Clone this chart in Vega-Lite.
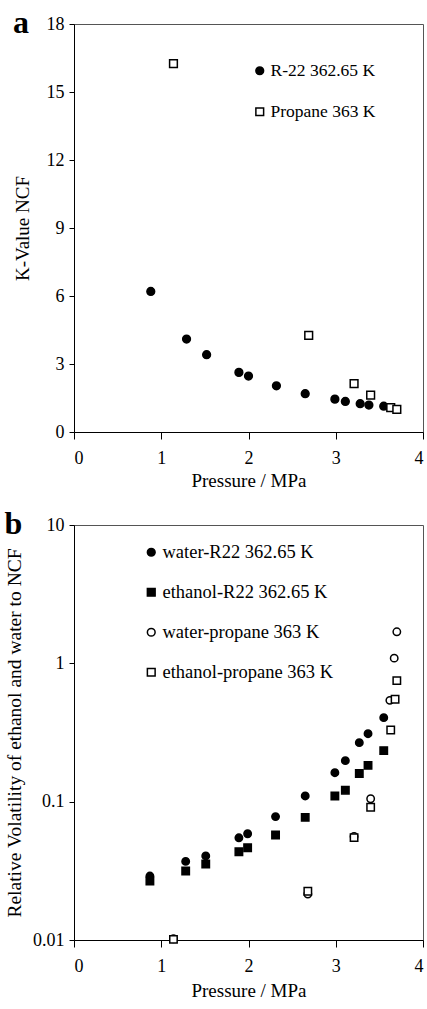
{
  "$schema": "https://vega.github.io/schema/vega-lite/v6.json",
  "padding": {"top": 6, "left": 4, "right": 4, "bottom": 2},
  "spacing": 16,
  "resolve": {"scale": {"shape": "independent", "fill": "independent", "stroke": "independent"}, "legend": {"shape": "independent", "fill": "independent", "stroke": "independent"}},
  "config": {
    "font": "Liberation Serif",
    "view": {"stroke": "#555", "strokeWidth": 1},
    "axis": {
      "grid": false, "domainColor": "black", "tickColor": "black", "labelColor": "black", "titleColor": "black",
      "labelFont": "Liberation Serif", "titleFont": "Liberation Serif", "labelFontSize": 18, "titleFontSize": 19,
      "titleFontWeight": "normal", "tickSize": 5, "labelPadding": 5
    },
    "legend": {
      "labelFont": "Liberation Serif", "labelColor": "black", "padding": 0,
      "symbolSize": 60, "labelOffset": 2, "labelLimit": 300, "symbolStrokeWidth": 1.5
    },
    "title": {"font": "Liberation Serif", "fontSize": 32, "fontWeight": "bold", "anchor": "start", "frame": "bounds", "color": "black"}
  },
  "vconcat": [
    {
      "title": {"text": "a", "offset": -25},
      "width": 349,
      "height": 408,
      "data": {"values": [
        {"P": 0.88, "K": 6.2, "series": "R-22 362.65 K"},
        {"P": 1.29, "K": 4.1, "series": "R-22 362.65 K"},
        {"P": 1.52, "K": 3.41, "series": "R-22 362.65 K"},
        {"P": 1.89, "K": 2.63, "series": "R-22 362.65 K"},
        {"P": 2.0, "K": 2.47, "series": "R-22 362.65 K"},
        {"P": 2.32, "K": 2.04, "series": "R-22 362.65 K"},
        {"P": 2.65, "K": 1.69, "series": "R-22 362.65 K"},
        {"P": 2.99, "K": 1.45, "series": "R-22 362.65 K"},
        {"P": 3.11, "K": 1.35, "series": "R-22 362.65 K"},
        {"P": 3.28, "K": 1.25, "series": "R-22 362.65 K"},
        {"P": 3.38, "K": 1.19, "series": "R-22 362.65 K"},
        {"P": 3.55, "K": 1.14, "series": "R-22 362.65 K"},
        {"P": 1.14, "K": 16.25, "series": "Propane 363 K"},
        {"P": 2.69, "K": 4.26, "series": "Propane 363 K"},
        {"P": 3.21, "K": 2.13, "series": "Propane 363 K"},
        {"P": 3.40, "K": 1.63, "series": "Propane 363 K"},
        {"P": 3.63, "K": 1.07, "series": "Propane 363 K"},
        {"P": 3.70, "K": 1.0, "series": "Propane 363 K"}
      ]},
      "mark": {"type": "point", "filled": true, "strokeWidth": 1.5, "size": 60, "opacity": 1},
      "encoding": {
        "x": {"field": "P", "type": "quantitative", "scale": {"domain": [0, 4]},
              "axis": {"values": [0, 1, 2, 3, 4], "title": "Pressure / MPa", "tickSize": 7, "labelPadding": 10, "titlePadding": 4}},
        "y": {"field": "K", "type": "quantitative", "scale": {"domain": [0, 18]},
              "axis": {"values": [0, 3, 6, 9, 12, 15, 18], "title": "K-Value NCF", "titlePadding": 14}},
        "shape": {"field": "series", "type": "nominal",
                  "scale": {"domain": ["R-22 362.65 K", "Propane 363 K"], "range": ["circle", "square"]},
                  "legend": {"title": null, "orient": "none", "legendX": 177, "legendY": 38, "labelFontSize": 17.5, "rowPadding": 22}},
        "fill": {"field": "series", "type": "nominal",
                 "scale": {"domain": ["R-22 362.65 K", "Propane 363 K"], "range": ["black", "white"]},
                 "legend": {"title": null, "orient": "none", "legendX": 177, "legendY": 38, "labelFontSize": 17.5, "rowPadding": 22}},
        "stroke": {"field": "series", "type": "nominal",
                 "scale": {"domain": ["R-22 362.65 K", "Propane 363 K"], "range": ["black", "black"]},
                 "legend": {"title": null, "orient": "none", "legendX": 177, "legendY": 38, "labelFontSize": 17.5, "rowPadding": 22}}
      }
    },
    {
      "title": {"text": "b", "offset": -25},
      "width": 349,
      "height": 415,
      "data": {"values": [
        {"P": 0.87, "R": 0.029, "series": "water-R22 362.65 K"},
        {"P": 1.28, "R": 0.037, "series": "water-R22 362.65 K"},
        {"P": 1.51, "R": 0.0405, "series": "water-R22 362.65 K"},
        {"P": 1.89, "R": 0.0548, "series": "water-R22 362.65 K"},
        {"P": 1.99, "R": 0.0586, "series": "water-R22 362.65 K"},
        {"P": 2.31, "R": 0.078, "series": "water-R22 362.65 K"},
        {"P": 2.65, "R": 0.110, "series": "water-R22 362.65 K"},
        {"P": 2.99, "R": 0.162, "series": "water-R22 362.65 K"},
        {"P": 3.11, "R": 0.198, "series": "water-R22 362.65 K"},
        {"P": 3.27, "R": 0.267, "series": "water-R22 362.65 K"},
        {"P": 3.37, "R": 0.31, "series": "water-R22 362.65 K"},
        {"P": 3.55, "R": 0.405, "series": "water-R22 362.65 K"},
        {"P": 0.87, "R": 0.0267, "series": "ethanol-R22 362.65 K"},
        {"P": 1.28, "R": 0.0315, "series": "ethanol-R22 362.65 K"},
        {"P": 1.51, "R": 0.0354, "series": "ethanol-R22 362.65 K"},
        {"P": 1.89, "R": 0.0435, "series": "ethanol-R22 362.65 K"},
        {"P": 1.99, "R": 0.0465, "series": "ethanol-R22 362.65 K"},
        {"P": 2.31, "R": 0.0574, "series": "ethanol-R22 362.65 K"},
        {"P": 2.65, "R": 0.077, "series": "ethanol-R22 362.65 K"},
        {"P": 2.99, "R": 0.110, "series": "ethanol-R22 362.65 K"},
        {"P": 3.11, "R": 0.121, "series": "ethanol-R22 362.65 K"},
        {"P": 3.27, "R": 0.160, "series": "ethanol-R22 362.65 K"},
        {"P": 3.37, "R": 0.183, "series": "ethanol-R22 362.65 K"},
        {"P": 3.55, "R": 0.234, "series": "ethanol-R22 362.65 K"},
        {"P": 1.14, "R": 0.0102, "series": "water-propane 363 K"},
        {"P": 2.68, "R": 0.0215, "series": "water-propane 363 K"},
        {"P": 3.21, "R": 0.056, "series": "water-propane 363 K"},
        {"P": 3.40, "R": 0.105, "series": "water-propane 363 K"},
        {"P": 3.62, "R": 0.54, "series": "water-propane 363 K"},
        {"P": 3.67, "R": 1.09, "series": "water-propane 363 K"},
        {"P": 3.70, "R": 1.69, "series": "water-propane 363 K"},
        {"P": 1.14, "R": 0.0101, "series": "ethanol-propane 363 K"},
        {"P": 2.68, "R": 0.0225, "series": "ethanol-propane 363 K"},
        {"P": 3.21, "R": 0.055, "series": "ethanol-propane 363 K"},
        {"P": 3.40, "R": 0.091, "series": "ethanol-propane 363 K"},
        {"P": 3.63, "R": 0.33, "series": "ethanol-propane 363 K"},
        {"P": 3.68, "R": 0.55, "series": "ethanol-propane 363 K"},
        {"P": 3.70, "R": 0.75, "series": "ethanol-propane 363 K"}
      ]},
      "mark": {"type": "point", "filled": true, "strokeWidth": 1.5, "size": 55, "opacity": 1},
      "encoding": {
        "x": {"field": "P", "type": "quantitative", "scale": {"domain": [0, 4]},
              "axis": {"values": [0, 1, 2, 3, 4], "title": "Pressure / MPa", "tickSize": 7, "labelPadding": 10, "titlePadding": 6}},
        "y": {"field": "R", "type": "quantitative", "scale": {"type": "log", "domain": [0.01, 10]},
              "axis": {"values": [0.01, 0.1, 1, 10], "format": "~g", "title": "Relative Volatility of ethanol and water to NCF", "titleFontSize": 19.5, "titlePadding": 8}},
        "shape": {"field": "series", "type": "nominal",
                  "scale": {"domain": ["water-R22 362.65 K", "ethanol-R22 362.65 K", "water-propane 363 K", "ethanol-propane 363 K"], "range": ["circle", "square", "circle", "square"]},
                  "legend": {"title": null, "orient": "none", "legendX": 68, "legendY": 18, "labelFontSize": 18.5, "rowPadding": 21}},
        "fill": {"field": "series", "type": "nominal",
                 "scale": {"domain": ["water-R22 362.65 K", "ethanol-R22 362.65 K", "water-propane 363 K", "ethanol-propane 363 K"], "range": ["black", "black", "white", "white"]},
                 "legend": {"title": null, "orient": "none", "legendX": 68, "legendY": 18, "labelFontSize": 18.5, "rowPadding": 21}},
        "stroke": {"field": "series", "type": "nominal",
                 "scale": {"domain": ["water-R22 362.65 K", "ethanol-R22 362.65 K", "water-propane 363 K", "ethanol-propane 363 K"], "range": ["black", "black", "black", "black"]},
                 "legend": {"title": null, "orient": "none", "legendX": 68, "legendY": 18, "labelFontSize": 18.5, "rowPadding": 21}}
      }
    }
  ]
}
